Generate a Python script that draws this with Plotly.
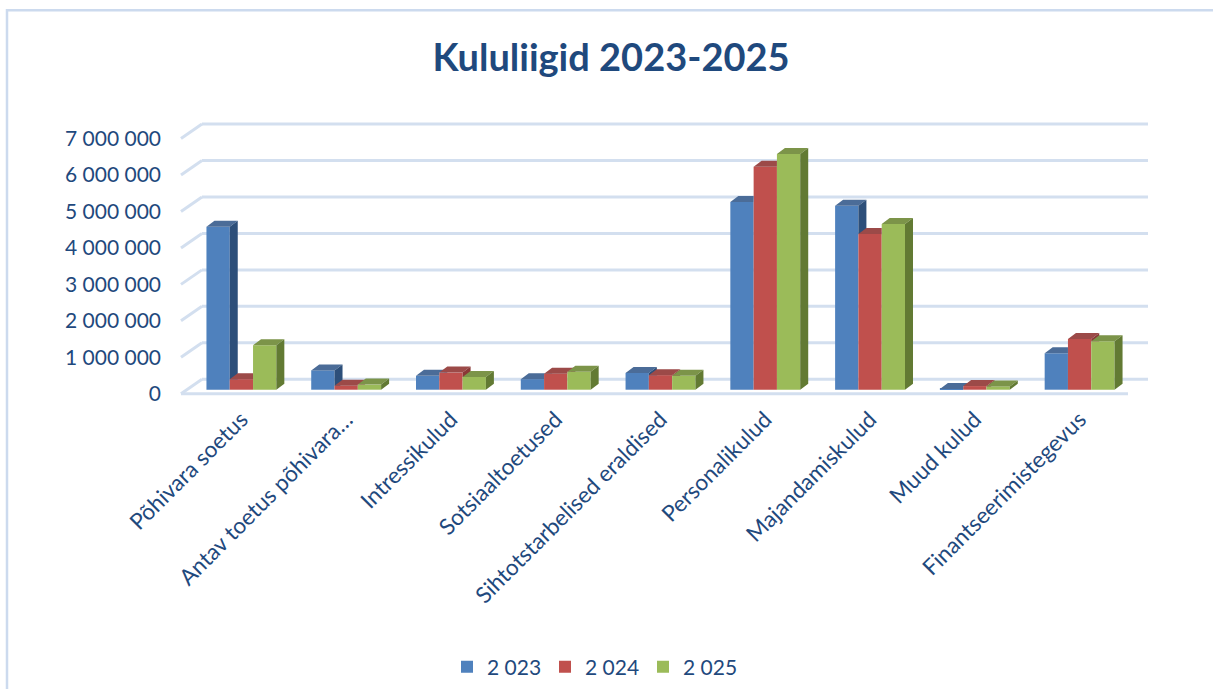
import plotly.graph_objects as go

# ---------------- data ----------------
categories = ["Põhivara soetus", "Antav toetus põhivara…", "Intressikulud", "Sotsiaaltoetused",
              "Sihtotstarbelised eraldised", "Personalikulud", "Majandamiskulud", "Muud kulud",
              "Finantseerimistegevus"]
series_names = ["2 023", "2 024", "2 025"]
v2023 = [4470000, 530000, 380000, 290000, 460000, 5150000, 5050000, 20000, 1000000]
v2024 = [290000, 110000, 470000, 440000, 400000, 6120000, 4270000, 100000, 1390000]
v2025 = [1220000, 140000, 350000, 490000, 380000, 6470000, 4550000, 90000, 1330000]
y_ticks = [0, 1000000, 2000000, 3000000, 4000000, 5000000, 6000000, 7000000]

# ---------------- styling ----------------
FONT = "Lato"
TXT = "#1F497D"
front_cols = ["#4F81BD", "#C0504D", "#9BBB59"]
top_cols = ["#4B6C98", "#9C4A48", "#7C9449"]
side_cols = ["#2D4F7A", "#8A3836", "#627A33"]
GRID = "#D3DFEF"

W_PX, H_PX = 1213, 689
L = 189
PW = 943
PX_PER_M = 36.5
BASE_PX = 390
Y_MIN, Y_MAX = -200000, 7400000
PH = (Y_MAX - Y_MIN) / 1e6 * PX_PER_M
T = BASE_PX - Y_MAX / 1e6 * PX_PER_M
B = H_PX - (T + PH)
R = W_PX - L - PW
UNIT_PX = PW / len(categories)


def px2v(px):
    return px / PX_PER_M * 1e6


def px2x(px):
    return px / UNIT_PX


def paper_x(px):
    return (px - L) / PW


values = [v2023, v2024, v2025]
nser = len(values)
bargap = 0.333
bw = (1 - bargap) / nser
DX = px2x(8)
DY = px2v(6)

fig = go.Figure()


def clip_above(poly, h):
    out = []
    n = len(poly)
    for i in range(n):
        p, q = poly[i], poly[(i + 1) % n]
        pin, qin = p[1] >= h, q[1] >= h
        if pin:
            out.append(p)
        if pin != qin:
            t = (h - p[1]) / (q[1] - p[1])
            out.append((p[0] + t * (q[0] - p[0]), h))
    return out


for s in range(nser):
    xs = [i - 0.5 + bargap / 2 + bw * (s + 0.5) for i in range(len(categories))]
    fig.add_trace(go.Bar(x=xs, y=values[s], width=bw, name=series_names[s],
                         marker=dict(color=front_cols[s], line=dict(width=0)),
                         hovertemplate="%{y:,d}<extra>" + series_names[s] + "</extra>"))
    top_x, top_y, side_x, side_y = [], [], [], []
    for i, v in enumerate(values[s]):
        x0 = xs[i] - bw / 2
        x1 = xs[i] + bw / 2
        h = values[s + 1][i] if s + 1 < nser else -1e12
        tl = [(x0, v), (x1, v), (x1, v + DY), (x0 + DX, v + DY)]
        tri = clip_above([(x1, v), (x1 + DX, v + DY), (x1, v + DY)], h)
        side = clip_above([(x1, 0), (x1 + DX, DY), (x1 + DX, v + DY), (x1, v)], h)
        for poly, bx, by in ((tl, top_x, top_y), (tri, top_x, top_y), (side, side_x, side_y)):
            if len(poly) >= 3:
                bx += [p[0] for p in poly] + [poly[0][0], None]
                by += [p[1] for p in poly] + [poly[0][1], None]
    fig.add_trace(go.Scatter(x=top_x, y=top_y, fill="toself", fillcolor=top_cols[s], mode="none",
                             showlegend=False, hoverinfo="skip"))
    fig.add_trace(go.Scatter(x=side_x, y=side_y, fill="toself", fillcolor=side_cols[s], mode="none",
                             showlegend=False, hoverinfo="skip"))

# back-wall gridlines + left-wall diagonals + floor front edge
shapes = []
back_dy = px2v(10.5)
front_dy = px2v(-4)
for v in y_ticks:
    shapes.append(dict(type="line", xref="paper", yref="y", x0=paper_x(202), x1=paper_x(1148),
                       y0=v + back_dy, y1=v + back_dy, line=dict(color=GRID, width=3), layer="below"))
    shapes.append(dict(type="line", xref="paper", yref="y", x0=paper_x(181), x1=paper_x(202),
                       y0=v + front_dy, y1=v + back_dy, line=dict(color=GRID, width=3), layer="below"))
shapes.append(dict(type="line", xref="paper", yref="y", x0=paper_x(181), x1=paper_x(1128),
                   y0=front_dy, y1=front_dy, line=dict(color=GRID, width=3), layer="below"))
# chart border
shapes.append(dict(type="rect", xref="paper", yref="paper", x0=paper_x(7), x1=paper_x(1230),
                   y0=-(710 - T - PH) / PH, y1=(T + PH - 10) / PH,
                   line=dict(color="#CCDAEE", width=2.5), fillcolor="rgba(0,0,0,0)", layer="below"))

fig.update_layout(
    width=W_PX, height=H_PX,
    margin=dict(l=L, r=R, t=T, b=B, autoexpand=False),
    paper_bgcolor="white", plot_bgcolor="rgba(0,0,0,0)",
    separators=", ",
    barmode="group", bargap=bargap, bargroupgap=0,
    font=dict(family=FONT, color=TXT),
    title=dict(text="Kululiigid 2023-2025", x=611 / W_PX, xanchor="center", xref="container",
               y=1 - 58 / H_PX, yanchor="middle", yref="container",
               font=dict(family=FONT, size=38, color=TXT, weight="bold")),
    showlegend=True,
    legend=dict(orientation="h", x=594 / W_PX, xanchor="center", xref="container",
                y=1 - 667 / H_PX, yanchor="middle", yref="container",
                font=dict(family=FONT, size=21, color=TXT), traceorder="normal",
                entrywidth=53, entrywidthmode="pixels"),
    shapes=shapes,
    xaxis=dict(range=[-0.5, len(categories) - 0.5], tickmode="array",
               tickvals=list(range(len(categories))), ticktext=categories,
               tickangle=-45, showgrid=False, zeroline=False, showline=False, ticks="",
               tickfont=dict(family=FONT, size=22.5, color=TXT), ticklabelstandoff=4,
               automargin=False, fixedrange=True),
    yaxis=dict(range=[Y_MIN, Y_MAX], tickmode="array", tickvals=y_ticks, tickformat=",d",
               showgrid=False, zeroline=False, showline=False, ticks="",
               tickfont=dict(family=FONT, size=21, color=TXT), ticklabelstandoff=27,
               ticklabelshift=4, automargin=False, fixedrange=True),
)

fig.write_html("out.html", config={"displayModeBar": False},
               post_script="document.body.style.margin='0px';")
